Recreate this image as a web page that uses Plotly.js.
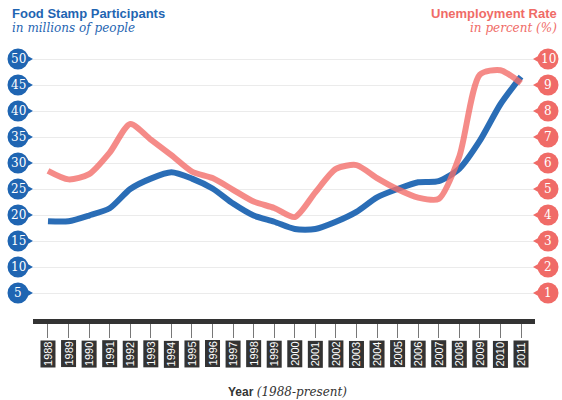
<!DOCTYPE html>
<html><head><meta charset="utf-8">
<script src="https://cdn.plot.ly/plotly-3.0.1.min.js"></script>
<style>html,body{margin:0;padding:0;background:#fff}#chart{width:562px;height:400px}</style>
</head><body><div id="chart"></div>
<script>
const years = [1988,1989,1990,1991,1992,1993,1994,1995,1996,1997,1998,1999,2000,2001,2002,2003,2004,2005,2006,2007,2008,2009,2010,2011];
const foodStamps = [18.8,18.8,19.9,21.3,25.0,27.0,28.2,27.0,25.1,22.2,19.9,18.7,17.3,17.3,18.7,20.6,23.4,25.0,26.3,26.5,28.9,34.3,41.3,46.6];
const unemployment = [5.7,5.37,5.57,6.4,7.5,6.9,6.3,5.67,5.42,4.97,4.52,4.27,3.92,4.87,5.77,5.92,5.42,4.99,4.67,4.62,6.25,9.4,9.57,9.07];
const leftTicks = [5,10,15,20,25,30,35,40,45,50];
const rightTicks = [1,2,3,4,5,6,7,8,9,10];

const W = 562, H = 400;
const L = 33, R = 535, T = 44, B = 319;
const px = x => (x - L) / (R - L);
const py = y => (B - y) / (B - T);
const yTop = (B - T) / 5.2;

const BLUE = '#1f65b2', RED = '#f06b67';
const serif = '"DejaVu Serif", Georgia, serif';
const sans = '"Liberation Sans", Arial, sans-serif';

const traces = [
  {x: years, y: unemployment, yaxis: 'y2', mode: 'lines', line: {color: 'rgba(242,110,106,0.8)', width: 6, shape: 'spline', smoothing: 0.7}, hoverinfo: 'skip'},
  {x: years, y: foodStamps, mode: 'lines', line: {color: 'rgba(31,101,178,0.95)', width: 6, shape: 'spline', smoothing: 0.7}, hoverinfo: 'skip'}
];

const shapes = [];
const annotations = [];
function tickBadge(val, yref, cx, dir, color) {
  shapes.push({type: 'circle', xref: 'paper', yref: yref, xsizemode: 'pixel', ysizemode: 'pixel',
    xanchor: px(cx), yanchor: val, x0: -10.5, x1: 10.5, y0: -10.5, y1: 10.5,
    fillcolor: color, line: {width: 0}, layer: 'above'});
  const tip = dir * 15, base = dir * 8;
  shapes.push({type: 'path', xref: 'paper', yref: yref, xsizemode: 'pixel', ysizemode: 'pixel',
    xanchor: px(cx), yanchor: val, path: `M ${base} -4 L ${tip} 0 L ${base} 4 Z`,
    fillcolor: color, line: {width: 0}, layer: 'above'});
  annotations.push({x: px(cx), xref: 'paper', y: val, yref: yref, text: String(val), showarrow: false,
    xanchor: 'center', yanchor: 'middle', font: {family: serif, size: val >= 10 ? 12 : 12, color: '#fff'}});
}
leftTicks.forEach(v => tickBadge(v, 'y', 18, 1, BLUE));
rightTicks.forEach(v => tickBadge(v, 'y2', 548, -1, RED));

years.forEach(yr => annotations.push({
  x: yr, xref: 'x', y: py(354), yref: 'paper', text: String(yr), textangle: -90,
  showarrow: false, bgcolor: '#333', borderpad: 1, font: {family: sans, size: 11, color: '#fff'}, yanchor: 'middle'
}));
annotations.push(
  {x: px(10), y: py(13.5), xref: 'paper', yref: 'paper', xanchor: 'left', yanchor: 'middle', showarrow: false,
   text: '<b>Food Stamp Participants</b>', font: {family: sans, size: 13, color: BLUE}},
  {x: px(10), y: py(28.5), xref: 'paper', yref: 'paper', xanchor: 'left', yanchor: 'middle', showarrow: false,
   text: '<i>in millions of people</i>', font: {family: serif, size: 12, color: BLUE}},
  {x: px(559), y: py(13.5), xref: 'paper', yref: 'paper', xanchor: 'right', yanchor: 'middle', showarrow: false,
   text: '<b>Unemployment Rate</b>', font: {family: sans, size: 13, color: RED}},
  {x: px(559), y: py(28.5), xref: 'paper', yref: 'paper', xanchor: 'right', yanchor: 'middle', showarrow: false,
   text: '<i>in percent (%)</i>', font: {family: serif, size: 12, color: RED}},
  {x: px(287), y: py(392), xref: 'paper', yref: 'paper', xanchor: 'center', yanchor: 'middle', showarrow: false,
   text: '<b>Year</b> <span style="font-family:' + "'DejaVu Serif'" + '"><i>(1988-present)</i></span>', font: {family: sans, size: 12, color: '#333'}}
);

const layout = {
  width: W, height: H,
  margin: {l: L, r: W - R, t: T, b: H - B, pad: 0},
  paper_bgcolor: '#fff', plot_bgcolor: '#fff',
  showlegend: false,
  xaxis: {range: [1987.271, 2011.681], tickvals: years, showticklabels: false, ticks: 'outside', ticklen: 14, tickcolor: '#777', tickwidth: 1,
          showgrid: false, zeroline: false, showline: true, linewidth: 5, linecolor: '#333', fixedrange: true},
  yaxis: {range: [0, yTop], tickvals: leftTicks, showticklabels: false, showgrid: true, gridcolor: '#ebebeb', gridwidth: 1, zeroline: false, fixedrange: true},
  yaxis2: {overlaying: 'y', side: 'right', range: [0, yTop / 5], tickvals: rightTicks, showticklabels: false, showgrid: false, zeroline: false, fixedrange: true},
  shapes: shapes,
  annotations: annotations
};

Plotly.newPlot('chart', traces, layout, {displayModeBar: false, staticPlot: true});
</script>
</body></html>
